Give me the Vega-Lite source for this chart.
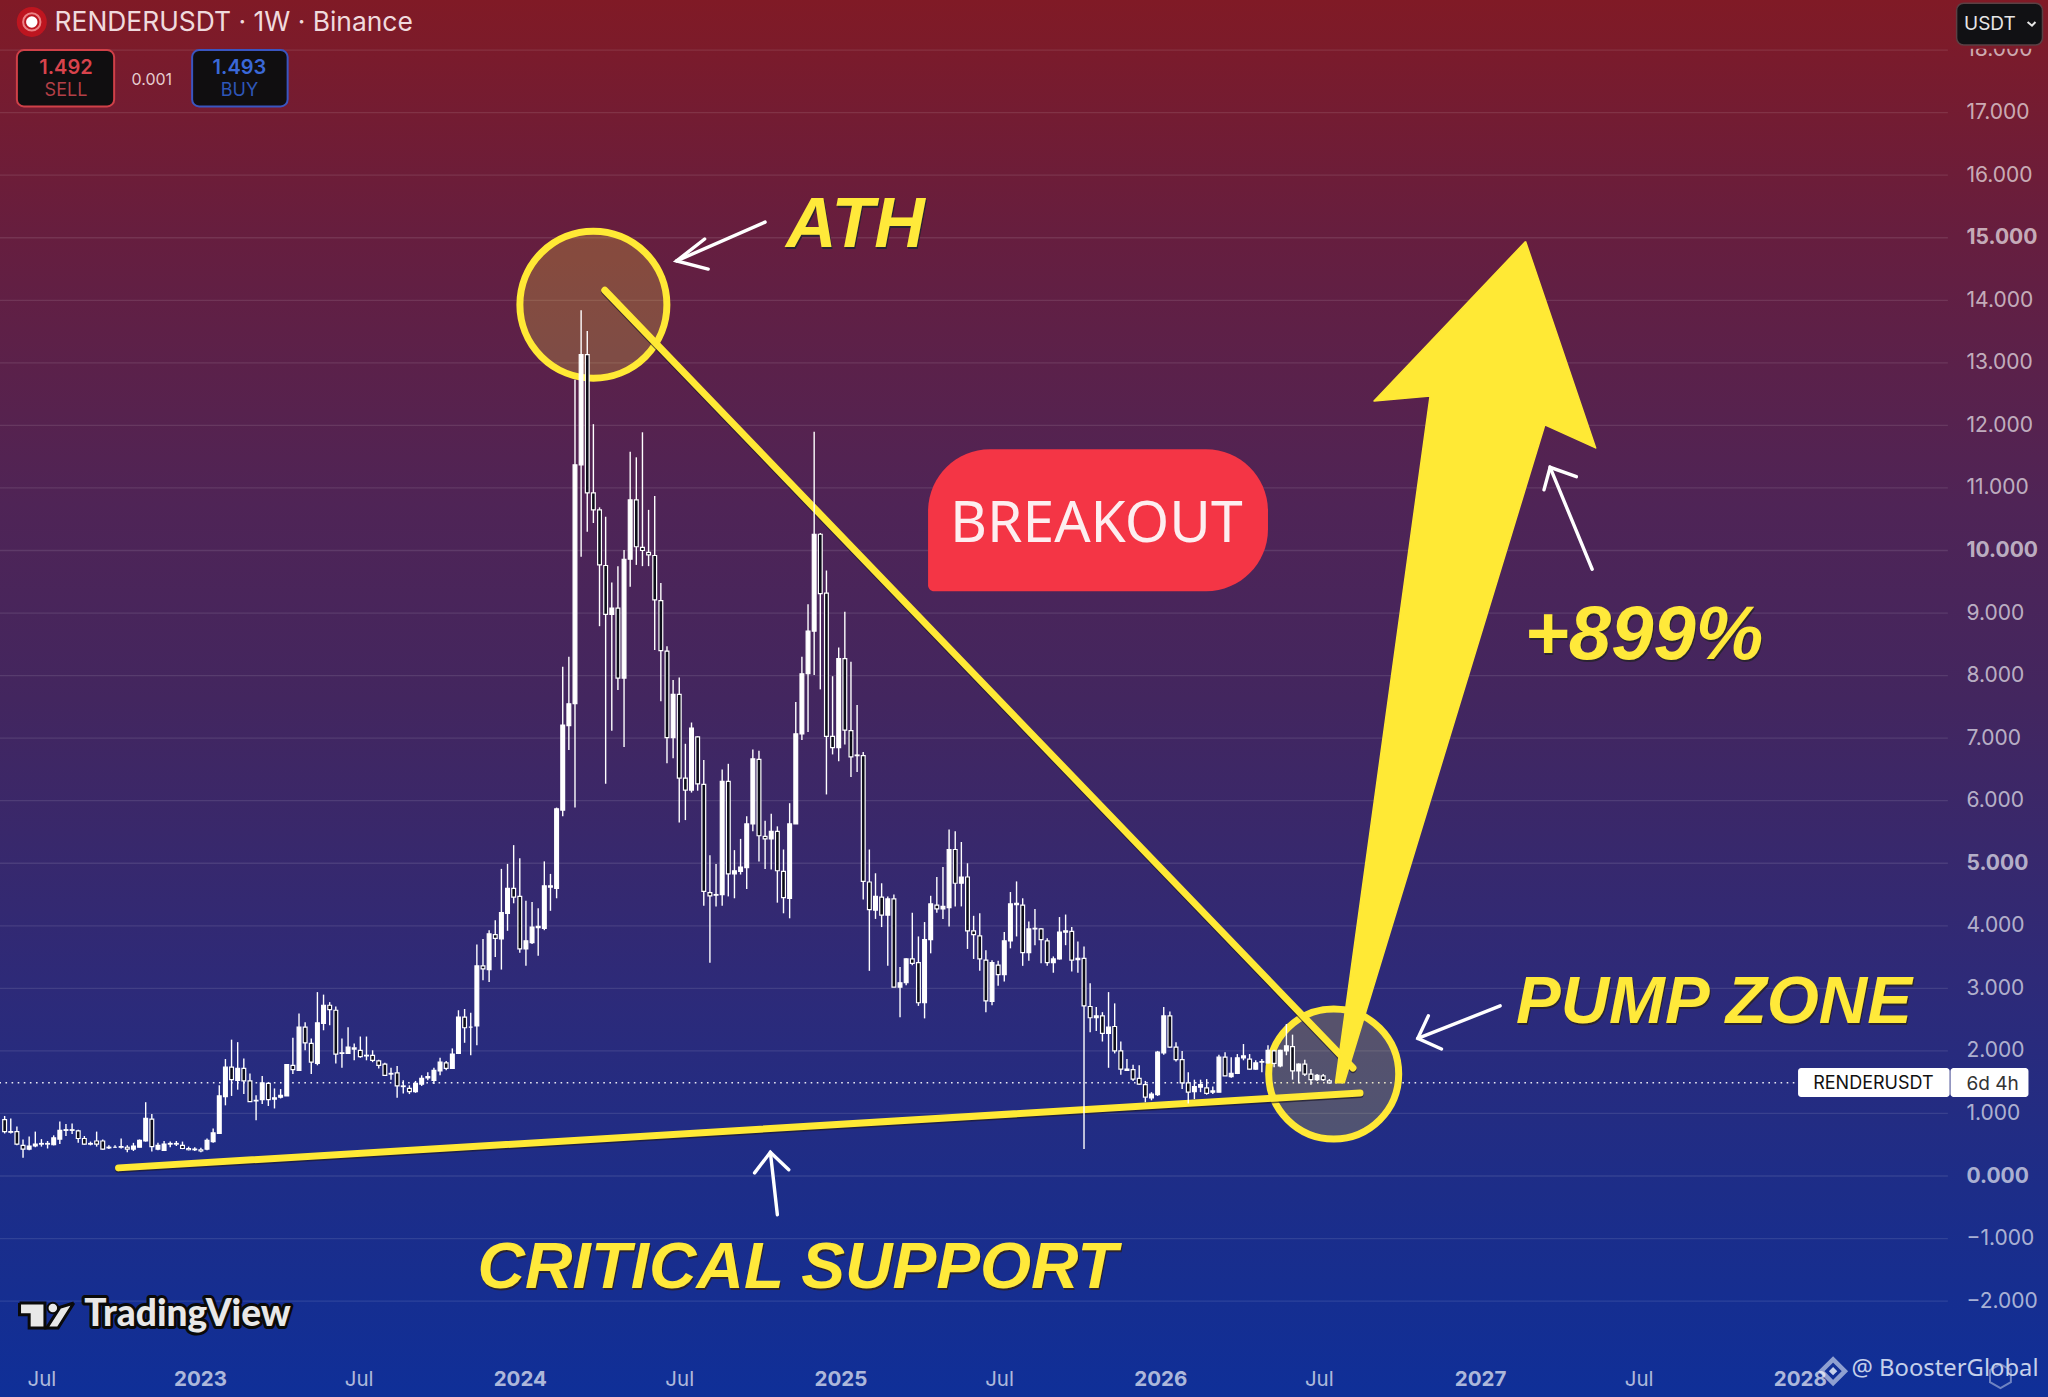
{"$schema":"https://vega.github.io/schema/vega-lite/v6.json","width":2048,"height":1397,"padding":0,"autosize":{"type":"none"},"background":"#0f2f98","config":{"view":{"stroke":null},"font":"Inter"},
"datasets":{"candles":[
{"d":"2022-05-23","o":0.9,"h":0.96,"l":0.68,"c":0.71},{"d":"2022-05-30","o":0.71,"h":0.92,"l":0.68,"c":0.7},{"d":"2022-06-06","o":0.71,"h":0.79,"l":0.49,"c":0.51},{"d":"2022-06-13","o":0.49,"h":0.585,"l":0.29,"c":0.43},{"d":"2022-06-20","o":0.43,"h":0.63,"l":0.41,"c":0.48},{"d":"2022-06-27","o":0.48,"h":0.71,"l":0.46,"c":0.51},{"d":"2022-07-04","o":0.51,"h":0.59,"l":0.47,"c":0.52},{"d":"2022-07-11","o":0.52,"h":0.56,"l":0.44,"c":0.51},{"d":"2022-07-18","o":0.5,"h":0.65,"l":0.49,"c":0.61},{"d":"2022-07-25","o":0.59,"h":0.87,"l":0.51,"c":0.73},{"d":"2022-08-01","o":0.73,"h":0.83,"l":0.64,"c":0.74},{"d":"2022-08-08","o":0.74,"h":0.84,"l":0.67,"c":0.73},{"d":"2022-08-15","o":0.72,"h":0.74,"l":0.53,"c":0.6},{"d":"2022-08-22","o":0.6,"h":0.64,"l":0.5,"c":0.51},{"d":"2022-08-29","o":0.51,"h":0.55,"l":0.49,"c":0.52},{"d":"2022-09-05","o":0.56,"h":0.71,"l":0.47,"c":0.51},{"d":"2022-09-12","o":0.56,"h":0.585,"l":0.42,"c":0.43},{"d":"2022-09-19","o":0.46,"h":0.49,"l":0.43,"c":0.45},{"d":"2022-09-26","o":0.46,"h":0.49,"l":0.45,"c":0.46},{"d":"2022-10-03","o":0.47,"h":0.6,"l":0.44,"c":0.46},{"d":"2022-10-10","o":0.46,"h":0.49,"l":0.38,"c":0.43},{"d":"2022-10-17","o":0.43,"h":0.53,"l":0.4,"c":0.48},{"d":"2022-10-24","o":0.46,"h":0.585,"l":0.46,"c":0.57},{"d":"2022-10-31","o":0.56,"h":1.18,"l":0.55,"c":0.92},{"d":"2022-11-07","o":0.91,"h":0.99,"l":0.39,"c":0.47},{"d":"2022-11-14","o":0.43,"h":0.53,"l":0.41,"c":0.49},{"d":"2022-11-21","o":0.41,"h":0.56,"l":0.4,"c":0.51},{"d":"2022-11-28","o":0.51,"h":0.55,"l":0.46,"c":0.52},{"d":"2022-12-05","o":0.52,"h":0.56,"l":0.48,"c":0.51},{"d":"2022-12-12","o":0.49,"h":0.55,"l":0.43,"c":0.44},{"d":"2022-12-19","o":0.44,"h":0.47,"l":0.41,"c":0.42},{"d":"2022-12-26","o":0.43,"h":0.46,"l":0.4,"c":0.42},
{"d":"2023-01-02","o":0.42,"h":0.45,"l":0.38,"c":0.4},{"d":"2023-01-09","o":0.43,"h":0.6,"l":0.41,"c":0.57},{"d":"2023-01-16","o":0.55,"h":0.76,"l":0.53,"c":0.69},{"d":"2023-01-23","o":0.68,"h":1.45,"l":0.68,"c":1.28},{"d":"2023-01-30","o":1.27,"h":1.87,"l":1.13,"c":1.74},{"d":"2023-02-06","o":1.74,"h":2.18,"l":1.28,"c":1.54},{"d":"2023-02-13","o":1.53,"h":2.14,"l":1.38,"c":1.72},{"d":"2023-02-20","o":1.72,"h":1.88,"l":1.31,"c":1.52},{"d":"2023-02-27","o":1.52,"h":1.64,"l":1.19,"c":1.19},{"d":"2023-03-06","o":1.2,"h":1.29,"l":0.89,"c":1.21},{"d":"2023-03-13","o":1.22,"h":1.6,"l":1.15,"c":1.49},{"d":"2023-03-20","o":1.48,"h":1.5,"l":1.12,"c":1.22},{"d":"2023-03-27","o":1.23,"h":1.4,"l":1.08,"c":1.25},{"d":"2023-04-03","o":1.26,"h":1.39,"l":1.24,"c":1.29},{"d":"2023-04-10","o":1.28,"h":1.79,"l":1.28,"c":1.78},{"d":"2023-04-17","o":1.77,"h":2.21,"l":1.63,"c":1.7},{"d":"2023-04-24","o":1.69,"h":2.6,"l":1.69,"c":2.38},{"d":"2023-05-01","o":2.38,"h":2.46,"l":2.01,"c":2.13},{"d":"2023-05-08","o":2.12,"h":2.2,"l":1.63,"c":1.82},{"d":"2023-05-15","o":1.8,"h":2.94,"l":1.77,"c":2.45},{"d":"2023-05-22","o":2.44,"h":2.9,"l":2.33,"c":2.73},{"d":"2023-05-29","o":2.73,"h":2.78,"l":2.41,"c":2.66},{"d":"2023-06-05","o":2.65,"h":2.71,"l":1.8,"c":1.95},{"d":"2023-06-12","o":1.97,"h":2.2,"l":1.73,"c":1.96},{"d":"2023-06-19","o":1.96,"h":2.38,"l":1.95,"c":2.06},{"d":"2023-06-26","o":2.05,"h":2.12,"l":1.85,"c":2.03},{"d":"2023-07-03","o":2.01,"h":2.23,"l":1.89,"c":1.91},{"d":"2023-07-10","o":1.93,"h":2.23,"l":1.85,"c":1.92},{"d":"2023-07-17","o":1.93,"h":2.01,"l":1.82,"c":1.85},{"d":"2023-07-24","o":1.84,"h":1.86,"l":1.72,"c":1.77},{"d":"2023-07-31","o":1.79,"h":1.81,"l":1.6,"c":1.61},{"d":"2023-08-07","o":1.63,"h":1.73,"l":1.54,"c":1.64},{"d":"2023-08-14","o":1.65,"h":1.76,"l":1.25,"c":1.44},{"d":"2023-08-21","o":1.44,"h":1.53,"l":1.32,"c":1.43},{"d":"2023-08-28","o":1.4,"h":1.45,"l":1.31,"c":1.35},{"d":"2023-09-04","o":1.35,"h":1.52,"l":1.33,"c":1.48},{"d":"2023-09-11","o":1.47,"h":1.61,"l":1.44,"c":1.56},{"d":"2023-09-18","o":1.57,"h":1.66,"l":1.53,"c":1.59},{"d":"2023-09-25","o":1.53,"h":1.73,"l":1.47,"c":1.69},{"d":"2023-10-02","o":1.68,"h":1.89,"l":1.61,"c":1.82},{"d":"2023-10-09","o":1.81,"h":1.84,"l":1.69,"c":1.72},{"d":"2023-10-16","o":1.72,"h":2.04,"l":1.72,"c":1.95},{"d":"2023-10-23","o":1.96,"h":2.65,"l":1.95,"c":2.54},{"d":"2023-10-30","o":2.54,"h":2.67,"l":2.13,"c":2.37},{"d":"2023-11-06","o":2.38,"h":2.61,"l":1.93,"c":2.38},{"d":"2023-11-13","o":2.4,"h":3.7,"l":2.09,"c":3.36},{"d":"2023-11-20","o":3.36,"h":3.79,"l":3.13,"c":3.31},{"d":"2023-11-27","o":3.3,"h":3.93,"l":3.1,"c":3.87},{"d":"2023-12-04","o":3.86,"h":4.09,"l":3.5,"c":3.8},{"d":"2023-12-11","o":3.79,"h":4.91,"l":3.3,"c":4.21},{"d":"2023-12-18","o":4.2,"h":4.99,"l":3.92,"c":4.6},{"d":"2023-12-25","o":4.6,"h":5.29,"l":4.36,"c":4.46},
{"d":"2024-01-01","o":4.47,"h":5.08,"l":3.57,"c":3.63},{"d":"2024-01-08","o":3.63,"h":4.4,"l":3.36,"c":3.76},{"d":"2024-01-15","o":3.73,"h":4.38,"l":3.71,"c":3.98},{"d":"2024-01-22","o":3.97,"h":4.28,"l":3.52,"c":3.99},{"d":"2024-01-29","o":3.96,"h":5.03,"l":3.93,"c":4.64},{"d":"2024-02-05","o":4.62,"h":4.83,"l":4.24,"c":4.64},{"d":"2024-02-12","o":4.6,"h":5.89,"l":4.44,"c":5.87},{"d":"2024-02-19","o":5.85,"h":8.14,"l":5.75,"c":7.21},{"d":"2024-02-26","o":7.2,"h":8.3,"l":6.81,"c":7.55},{"d":"2024-03-04","o":7.55,"h":12.73,"l":5.89,"c":11.37},{"d":"2024-03-11","o":11.37,"h":13.84,"l":9.9,"c":13.13},{"d":"2024-03-18","o":13.13,"h":13.51,"l":10.3,"c":10.92},{"d":"2024-03-25","o":10.92,"h":12.02,"l":10.44,"c":10.65},{"d":"2024-04-01","o":10.65,"h":10.69,"l":8.79,"c":9.77},{"d":"2024-04-08","o":9.76,"h":10.54,"l":6.27,"c":8.98},{"d":"2024-04-15","o":8.98,"h":9.49,"l":7.12,"c":9.08},{"d":"2024-04-22","o":9.08,"h":9.75,"l":7.77,"c":7.96},{"d":"2024-04-29","o":7.96,"h":10.01,"l":6.86,"c":9.86},{"d":"2024-05-06","o":9.86,"h":11.58,"l":9.42,"c":10.81},{"d":"2024-05-13","o":10.81,"h":11.49,"l":9.77,"c":10.06},{"d":"2024-05-20","o":10.05,"h":11.89,"l":9.75,"c":10.0},{"d":"2024-05-27","o":9.97,"h":10.65,"l":9.75,"c":9.93},{"d":"2024-06-03","o":9.92,"h":10.87,"l":8.41,"c":9.21},{"d":"2024-06-10","o":9.2,"h":9.48,"l":7.59,"c":8.4},{"d":"2024-06-17","o":8.39,"h":8.47,"l":6.6,"c":7.01},{"d":"2024-06-24","o":7.01,"h":7.93,"l":6.68,"c":7.7},{"d":"2024-07-01","o":7.7,"h":7.97,"l":5.65,"c":6.36},{"d":"2024-07-08","o":6.36,"h":6.91,"l":5.69,"c":6.17},{"d":"2024-07-15","o":6.17,"h":7.25,"l":6.13,"c":7.16},{"d":"2024-07-22","o":7.02,"h":7.03,"l":6.16,"c":6.27},{"d":"2024-07-29","o":6.26,"h":6.65,"l":4.32,"c":4.55},{"d":"2024-08-05","o":4.53,"h":5.13,"l":3.41,"c":4.48},{"d":"2024-08-12","o":4.49,"h":4.99,"l":4.31,"c":4.5},{"d":"2024-08-19","o":4.5,"h":6.5,"l":4.32,"c":6.31},{"d":"2024-08-26","o":6.31,"h":6.59,"l":4.47,"c":4.83},{"d":"2024-09-02","o":4.83,"h":5.21,"l":4.44,"c":4.88},{"d":"2024-09-09","o":4.87,"h":5.39,"l":4.82,"c":4.94},{"d":"2024-09-16","o":4.93,"h":5.75,"l":4.59,"c":5.63},{"d":"2024-09-23","o":5.63,"h":6.82,"l":5.51,"c":6.67},{"d":"2024-09-30","o":6.66,"h":6.8,"l":5.03,"c":5.44},{"d":"2024-10-07","o":5.43,"h":5.68,"l":4.91,"c":5.39},{"d":"2024-10-14","o":5.39,"h":5.79,"l":4.9,"c":5.51},{"d":"2024-10-21","o":5.51,"h":5.59,"l":4.37,"c":4.88},{"d":"2024-10-28","o":4.87,"h":5.22,"l":4.2,"c":4.45},{"d":"2024-11-04","o":4.44,"h":5.96,"l":4.12,"c":5.63},{"d":"2024-11-11","o":5.63,"h":7.58,"l":5.63,"c":7.07},{"d":"2024-11-18","o":7.07,"h":8.3,"l":6.97,"c":8.03},{"d":"2024-11-25","o":8.03,"h":9.14,"l":7.1,"c":8.71},{"d":"2024-12-02","o":8.71,"h":11.9,"l":8.01,"c":10.26},{"d":"2024-12-09","o":10.26,"h":10.28,"l":7.78,"c":9.31},{"d":"2024-12-16","o":9.32,"h":9.68,"l":6.1,"c":7.03},{"d":"2024-12-23","o":7.03,"h":7.99,"l":6.74,"c":6.85},{"d":"2024-12-30","o":6.85,"h":8.45,"l":6.63,"c":8.27},
{"d":"2025-01-06","o":8.27,"h":9.02,"l":6.9,"c":7.13},{"d":"2025-01-13","o":7.12,"h":8.22,"l":6.38,"c":6.7},{"d":"2025-01-20","o":6.72,"h":7.53,"l":6.46,"c":6.73},{"d":"2025-01-27","o":6.72,"h":6.78,"l":4.42,"c":4.71},{"d":"2025-02-03","o":4.7,"h":5.22,"l":3.28,"c":4.26},{"d":"2025-02-10","o":4.25,"h":4.84,"l":4.11,"c":4.47},{"d":"2025-02-17","o":4.46,"h":4.68,"l":3.98,"c":4.17},{"d":"2025-02-24","o":4.17,"h":4.47,"l":3.36,"c":4.43},{"d":"2025-03-03","o":4.43,"h":4.5,"l":3.02,"c":3.02},{"d":"2025-03-10","o":3.02,"h":3.34,"l":2.54,"c":3.09},{"d":"2025-03-17","o":3.09,"h":3.48,"l":3.05,"c":3.47},{"d":"2025-03-24","o":3.47,"h":4.21,"l":3.37,"c":3.4},{"d":"2025-03-31","o":3.41,"h":3.83,"l":2.72,"c":2.77},{"d":"2025-04-07","o":2.77,"h":4.06,"l":2.52,"c":3.78},{"d":"2025-04-14","o":3.78,"h":4.48,"l":3.56,"c":4.35},{"d":"2025-04-21","o":4.33,"h":4.78,"l":4.21,"c":4.27},{"d":"2025-04-28","o":4.27,"h":4.94,"l":4.11,"c":4.31},{"d":"2025-05-05","o":4.29,"h":5.54,"l":3.99,"c":5.22},{"d":"2025-05-12","o":5.22,"h":5.51,"l":4.31,"c":4.68},{"d":"2025-05-19","o":4.68,"h":5.34,"l":4.31,"c":4.78},{"d":"2025-05-26","o":4.78,"h":5.0,"l":3.63,"c":3.92},{"d":"2025-06-02","o":3.92,"h":4.16,"l":3.47,"c":3.86},{"d":"2025-06-09","o":3.84,"h":4.2,"l":3.28,"c":3.47},{"d":"2025-06-16","o":3.45,"h":3.61,"l":2.62,"c":2.8},{"d":"2025-06-23","o":2.79,"h":3.45,"l":2.73,"c":3.41},{"d":"2025-06-30","o":3.37,"h":3.44,"l":3.04,"c":3.22},{"d":"2025-07-07","o":3.22,"h":3.9,"l":3.11,"c":3.76},{"d":"2025-07-14","o":3.76,"h":4.54,"l":3.64,"c":4.35},{"d":"2025-07-21","o":4.34,"h":4.71,"l":3.83,"c":4.36},{"d":"2025-07-28","o":4.33,"h":4.44,"l":3.36,"c":3.57},{"d":"2025-08-04","o":3.57,"h":4.07,"l":3.44,"c":3.95},{"d":"2025-08-11","o":3.95,"h":4.27,"l":3.69,"c":3.96},{"d":"2025-08-18","o":3.95,"h":3.96,"l":3.4,"c":3.78},{"d":"2025-08-25","o":3.76,"h":3.8,"l":3.36,"c":3.41},{"d":"2025-09-01","o":3.41,"h":3.51,"l":3.25,"c":3.47},{"d":"2025-09-08","o":3.47,"h":4.14,"l":3.46,"c":3.9},{"d":"2025-09-15","o":3.9,"h":4.18,"l":3.69,"c":3.92},{"d":"2025-09-22","o":3.91,"h":3.98,"l":3.27,"c":3.45},{"d":"2025-09-29","o":3.46,"h":3.75,"l":3.25,"c":3.48},{"d":"2025-10-06","o":3.48,"h":3.67,"l":0.43,"c":2.72},{"d":"2025-10-13","o":2.71,"h":3.08,"l":2.3,"c":2.53},{"d":"2025-10-20","o":2.53,"h":2.7,"l":2.32,"c":2.56},{"d":"2025-10-27","o":2.56,"h":2.62,"l":2.15,"c":2.28},{"d":"2025-11-03","o":2.28,"h":2.94,"l":1.73,"c":2.38},{"d":"2025-11-10","o":2.39,"h":2.76,"l":1.96,"c":2.0},{"d":"2025-11-17","o":2.0,"h":2.15,"l":1.62,"c":1.71},{"d":"2025-11-24","o":1.71,"h":1.87,"l":1.68,"c":1.69},{"d":"2025-12-01","o":1.7,"h":1.78,"l":1.52,"c":1.55},{"d":"2025-12-08","o":1.56,"h":1.77,"l":1.46,"c":1.47},{"d":"2025-12-15","o":1.46,"h":1.52,"l":1.18,"c":1.26},{"d":"2025-12-22","o":1.25,"h":1.34,"l":1.21,"c":1.31},{"d":"2025-12-29","o":1.3,"h":2.0,"l":1.28,"c":1.98},
{"d":"2026-01-05","o":1.97,"h":2.7,"l":1.94,"c":2.56},{"d":"2026-01-12","o":2.56,"h":2.63,"l":2.05,"c":2.06},{"d":"2026-01-19","o":2.06,"h":2.14,"l":1.83,"c":1.86},{"d":"2026-01-26","o":1.86,"h":2.0,"l":1.39,"c":1.49},{"d":"2026-02-02","o":1.49,"h":1.66,"l":1.16,"c":1.34},{"d":"2026-02-09","o":1.35,"h":1.54,"l":1.23,"c":1.43},{"d":"2026-02-16","o":1.42,"h":1.54,"l":1.34,"c":1.46},{"d":"2026-02-23","o":1.41,"h":1.55,"l":1.3,"c":1.32},{"d":"2026-03-02","o":1.34,"h":1.43,"l":1.31,"c":1.36},{"d":"2026-03-09","o":1.34,"h":1.94,"l":1.34,"c":1.9},{"d":"2026-03-16","o":1.9,"h":1.98,"l":1.6,"c":1.6},{"d":"2026-03-23","o":1.59,"h":1.9,"l":1.57,"c":1.64},{"d":"2026-03-30","o":1.64,"h":1.95,"l":1.63,"c":1.89},{"d":"2026-04-06","o":1.89,"h":2.11,"l":1.85,"c":1.92},{"d":"2026-04-13","o":1.87,"h":1.95,"l":1.7,"c":1.71},{"d":"2026-04-20","o":1.71,"h":1.85,"l":1.7,"c":1.81},{"d":"2026-04-27","o":1.83,"h":1.87,"l":1.66,"c":1.82},{"d":"2026-05-04","o":1.81,"h":2.09,"l":1.8,"c":2.01},{"d":"2026-05-11","o":2.0,"h":2.02,"l":1.74,"c":1.8},{"d":"2026-05-18","o":1.76,"h":2.02,"l":1.74,"c":2.01},{"d":"2026-05-25","o":2.0,"h":2.43,"l":1.93,"c":2.08},{"d":"2026-06-01","o":2.07,"h":2.26,"l":1.54,"c":1.68},{"d":"2026-06-08","o":1.68,"h":1.8,"l":1.48,"c":1.79},{"d":"2026-06-15","o":1.79,"h":1.86,"l":1.6,"c":1.63},{"d":"2026-06-22","o":1.63,"h":1.71,"l":1.46,"c":1.54},{"d":"2026-06-29","o":1.54,"h":1.63,"l":1.52,"c":1.61},{"d":"2026-07-06","o":1.6,"h":1.63,"l":1.52,"c":1.54},{"d":"2026-07-13","o":1.52,"h":1.55,"l":1.48,"c":1.49}
],
"ylines":[{"a":"support","i":0,"d":"2022-09-30","v":0.13},{"a":"support","i":1,"d":"2026-08-17","v":1.327},{"a":"diagonal","i":0,"d":"2024-04-07","v":14.16},{"a":"diagonal","i":1,"d":"2026-08-09","v":1.727}],
"tvpoly":[{"a":"T","i":0,"d":"2022-06-09","v":-2.03},{"a":"T","i":1,"d":"2022-07-08","v":-2.03},{"a":"T","i":2,"d":"2022-07-08","v":-2.43},{"a":"T","i":3,"d":"2022-06-20","v":-2.43},{"a":"T","i":4,"d":"2022-06-20","v":-2.22},{"a":"T","i":5,"d":"2022-06-09","v":-2.22},{"a":"T","i":6,"d":"2022-06-09","v":-2.03},{"a":"S","i":0,"d":"2022-08-10","v":-2.03},{"a":"S","i":1,"d":"2022-07-23","v":-2.43},{"a":"S","i":2,"d":"2022-07-10","v":-2.43},{"a":"S","i":3,"d":"2022-07-25","v":-2.1},{"a":"S","i":4,"d":"2022-08-10","v":-2.03}]
},
"encoding":{
"x":{"field":"d","type":"temporal","title":null,"scale":{"type":"utc","padding":0,"domain":[{"year":2022,"month":5,"date":17,"hours":17,"utc":true},{"year":2028,"month":10,"date":10,"hours":7,"utc":true}],"nice":false},
"axis":{"orient":"bottom","offset":-28,"zindex":1,"grid":false,"domain":false,"ticks":false,"labelPadding":0,"labelFont":"Inter","labelFontSize":20.5,"labelColor":"#ffffff","labelOpacity":0.68,"labelBound":false,"labelFlush":false,"labelOverlap":false,
"values":[{"year":2022,"month":7,"date":4,"utc":true},{"year":2023,"month":1,"date":1,"utc":true},{"year":2023,"month":7,"date":1,"utc":true},{"year":2024,"month":1,"date":1,"utc":true},{"year":2024,"month":7,"date":1,"utc":true},{"year":2025,"month":1,"date":1,"utc":true},{"year":2025,"month":7,"date":1,"utc":true},{"year":2026,"month":1,"date":1,"utc":true},{"year":2026,"month":7,"date":1,"utc":true},{"year":2027,"month":1,"date":1,"utc":true},{"year":2027,"month":7,"date":1,"utc":true},{"year":2028,"month":1,"date":1,"utc":true}],
"labelExpr":"utcmonth(datum.value)==0 ? utcyear(datum.value) : 'Jul'",
"labelFontWeight":{"condition":{"test":"utcmonth(datum.value)==0","value":"bold"},"value":"normal"}}},
"y":{"field":"v","type":"quantitative","title":null,"scale":{"domain":[-3.533,18.801],"nice":false,"zero":false},
"axis":{"orient":"right","offset":-82,"zindex":1,"grid":false,"domain":false,"ticks":false,"labelPadding":0,"labelFont":"Inter","labelFontSize":21,"labelColor":"#ffffff","labelOpacity":0.65,"labelOverlap":false,"labelBound":false,"labelFlush":false,"format":".3f",
"values":[-2,-1,0,1,2,3,4,5,6,7,8,9,10,11,12,13,14,15,16,17],
"labelFontWeight":{"condition":{"test":"datum.value%5==0","value":"bold"},"value":"normal"}}}
},
"layer":[
{"data":{"values":[{"d":"2022-05-17T17:00:00Z","d2":"2028-10-10T07:00:00Z","v":-3.533,"v2":18.801}]},
"mark":{"type":"rect","fill":{"gradient":"linear","x1":0,"y1":0,"x2":0,"y2":1,"stops":[{"offset":0,"color":"#801a26"},{"offset":0.17,"color":"#661e3f"},{"offset":0.36,"color":"#4f2456"},{"offset":0.5,"color":"#43265f"},{"offset":0.7,"color":"#2e2a78"},{"offset":0.85,"color":"#1d2d88"},{"offset":1,"color":"#0f2f98"}]}},
"encoding":{"x2":{"field":"d2"},"y2":{"field":"v2"}}},
{"data":{"values":[{"d":"2022-05-17","d2":"2028-06-18","v":-2},{"d":"2022-05-17","d2":"2028-06-18","v":-1},{"d":"2022-05-17","d2":"2028-06-18","v":0},{"d":"2022-05-17","d2":"2028-06-18","v":1},{"d":"2022-05-17","d2":"2028-06-18","v":2},{"d":"2022-05-17","d2":"2028-06-18","v":3},{"d":"2022-05-17","d2":"2028-06-18","v":4},{"d":"2022-05-17","d2":"2028-06-18","v":5},{"d":"2022-05-17","d2":"2028-06-18","v":6},{"d":"2022-05-17","d2":"2028-06-18","v":7},{"d":"2022-05-17","d2":"2028-06-18","v":8},{"d":"2022-05-17","d2":"2028-06-18","v":9},{"d":"2022-05-17","d2":"2028-06-18","v":10},{"d":"2022-05-17","d2":"2028-06-18","v":11},{"d":"2022-05-17","d2":"2028-06-18","v":12},{"d":"2022-05-17","d2":"2028-06-18","v":13},{"d":"2022-05-17","d2":"2028-06-18","v":14},{"d":"2022-05-17","d2":"2028-06-18","v":15},{"d":"2022-05-17","d2":"2028-06-18","v":16},{"d":"2022-05-17","d2":"2028-06-18","v":17},{"d":"2022-05-17","d2":"2028-06-18","v":18}]},
"mark":{"type":"rule","stroke":"#ffffff","strokeOpacity":0.1,"strokeWidth":1.3},"encoding":{"x2":{"field":"d2"}}},
{"data":{"values":[{"d":"2022-05-17","d2":"2027-12-30","v":1.49}]},"mark":{"type":"rule","stroke":"#ffffff","strokeOpacity":0.9,"strokeWidth":1.6,"strokeDash":[1.6,4.5]},"encoding":{"x2":{"field":"d2"}}},
{"data":{"values":[{"d":"2028-07-09","v":18,"t":"18.000"}]},"mark":{"type":"text","align":"left","baseline":"middle","font":"Inter","fontSize":21,"fill":"#ffffff","fillOpacity":0.65},"encoding":{"text":{"field":"t"}}},
{"data":{"values":[{"d":"2022-05-17T17:00:00Z","d2":"2028-10-10T07:00:00Z","v":18.02,"v2":18.801}]},"mark":{"type":"rect","fill":{"gradient":"linear","x1":0,"y1":0,"x2":0,"y2":1,"stops":[{"offset":0,"color":"#801a26"},{"offset":1,"color":"#7c1b2a"}]}},"encoding":{"x2":{"field":"d2"},"y2":{"field":"v2"}}},
{"data":{"values":[{"d":"2024-03-25","v":13.93}]},"mark":{"type":"point","shape":"circle","filled":true,"size":21609,"fill":"#ffe935","fillOpacity":0.22,"stroke":"#ffe935","strokeOpacity":1,"strokeWidth":7}},
{"data":{"values":[{"d":"2026-07-18","v":1.63}]},"mark":{"type":"point","shape":"circle","filled":true,"size":16900,"fill":"#ffe935","fillOpacity":0.21,"stroke":"#ffe935","strokeOpacity":1,"strokeWidth":7}},
{"data":{"name":"ylines"},"mark":{"type":"line","stroke":"#1f1b2a","strokeOpacity":0.7,"strokeWidth":7,"strokeCap":"round","yOffset":1.5},"encoding":{"detail":{"field":"a"},"order":{"field":"i"}}},
{"data":{"name":"ylines"},"mark":{"type":"line","stroke":"#ffe935","strokeWidth":7,"strokeCap":"round"},"encoding":{"detail":{"field":"a"},"order":{"field":"i"}}},
{"data":{"name":"candles"},"mark":{"type":"rule","stroke":"#ffffff","strokeWidth":1.4},"encoding":{"y":{"field":"l","type":"quantitative","title":null,"axis":{"orient":"right","offset":-82,"zindex":1,"grid":false,"domain":false,"ticks":false,"labelPadding":0,"labelFont":"Inter","labelFontSize":21,"labelColor":"#ffffff","labelOpacity":0.65,"labelOverlap":false,"labelBound":false,"labelFlush":false,"format":".3f","values":[-2,-1,0,1,2,3,4,5,6,7,8,9,10,11,12,13,14,15,16,17],"labelFontWeight":{"condition":{"test":"datum.value%5==0","value":"bold"},"value":"normal"}}},"y2":{"field":"h"}}},
{"data":{"name":"candles"},"mark":{"type":"bar","width":3.8,"stroke":"#ffffff","strokeWidth":1.2},"encoding":{"y":{"field":"o","type":"quantitative","title":null,"axis":{"orient":"right","offset":-82,"zindex":1,"grid":false,"domain":false,"ticks":false,"labelPadding":0,"labelFont":"Inter","labelFontSize":21,"labelColor":"#ffffff","labelOpacity":0.65,"labelOverlap":false,"labelBound":false,"labelFlush":false,"format":".3f","values":[-2,-1,0,1,2,3,4,5,6,7,8,9,10,11,12,13,14,15,16,17],"labelFontWeight":{"condition":{"test":"datum.value%5==0","value":"bold"},"value":"normal"}}},"y2":{"field":"c"},"fill":{"condition":{"test":"datum.c<datum.o","value":"#0c0c18"},"value":"#ffffff"}}},
{"data":{"values":[{"i":0,"d":"2027-02-22","v":14.94},{"i":1,"d":"2027-05-13","v":11.64},{"i":2,"d":"2027-03-16","v":12.01},{"i":3,"d":"2026-07-30","v":1.49},{"i":4,"d":"2026-07-20","v":1.49},{"i":5,"d":"2026-11-05","v":12.47},{"i":6,"d":"2026-09-02","v":12.39},{"i":7,"d":"2027-02-22","v":14.94}]},
"mark":{"type":"line","fill":"#ffe935","stroke":"#ffe935","strokeWidth":1.5,"strokeJoin":"round"},"encoding":{"order":{"field":"i"}}},
{"data":{"values":[{"d":"2025-04-11","d2":"2026-05-04","v":11.62,"v2":9.35}]},"mark":{"type":"rect","fill":"#f43545","cornerRadiusTopLeft":62,"cornerRadiusTopRight":62,"cornerRadiusBottomRight":62,"cornerRadiusBottomLeft":6},"encoding":{"x2":{"field":"d2"},"y2":{"field":"v2"}}},
{"data":{"values":[{"d":"2025-10-20","v":10.4,"t":"BREAKOUT"}]},"mark":{"type":"text","font":"Noto Sans","fontSize":57,"fill":"#fdeef0","align":"center","baseline":"middle"},"encoding":{"text":{"field":"t"}}},
{"data":{"values":[{"a":"ath1","i":0,"d":"2024-10-07","v":15.25},{"a":"ath1","i":1,"d":"2024-06-28","v":14.63},{"a":"ath2","i":0,"d":"2024-07-30","v":14.98},{"a":"ath2","i":1,"d":"2024-06-28","v":14.63},{"a":"ath2","i":2,"d":"2024-08-03","v":14.5},{"a":"pump1","i":0,"d":"2027-01-24","v":2.72},{"a":"pump1","i":1,"d":"2026-10-22","v":2.2},{"a":"pump2","i":0,"d":"2026-11-03","v":2.56},{"a":"pump2","i":1,"d":"2026-10-22","v":2.2},{"a":"pump2","i":2,"d":"2026-11-18","v":2.03},{"a":"up1","i":0,"d":"2027-05-09","v":9.7},{"a":"up1","i":1,"d":"2027-03-22","v":11.33},{"a":"up2","i":0,"d":"2027-03-15","v":10.97},{"a":"up2","i":1,"d":"2027-03-22","v":11.33},{"a":"up2","i":2,"d":"2027-04-21","v":11.18},{"a":"sup1","i":0,"d":"2024-10-21","v":-0.62},{"a":"sup1","i":1,"d":"2024-10-13","v":0.38},{"a":"sup2","i":0,"d":"2024-09-25","v":0.05},{"a":"sup2","i":1,"d":"2024-10-13","v":0.38},{"a":"sup2","i":2,"d":"2024-11-03","v":0.1}]},
"mark":{"type":"line","stroke":"#ffffff","strokeWidth":3.4,"strokeCap":"round","strokeJoin":"miter"},"encoding":{"detail":{"field":"a"},"order":{"field":"i"}}},
{"data":{"values":[{"d":"2025-01-18","v":15.19,"t":"ATH"}]},"mark":{"type":"text","font":"Liberation Sans","fontStyle":"italic","fontWeight":"bold","fontSize":70,"fill":"#2a2333","align":"center","baseline":"middle","dx":1,"dy":2},"encoding":{"text":{"field":"t"}}},
{"data":{"values":[{"d":"2025-01-18","v":15.19,"t":"ATH"}]},"mark":{"type":"text","font":"Liberation Sans","fontStyle":"italic","fontWeight":"bold","fontSize":70,"fill":"#ffe93a","align":"center","baseline":"middle"},"encoding":{"text":{"field":"t"}}},
{"data":{"values":[{"d":"2027-07-07","v":8.64,"t":"+899%"}]},"mark":{"type":"text","font":"Liberation Sans","fontStyle":"italic","fontWeight":"bold","fontSize":76,"fill":"#2a2333","align":"center","baseline":"middle","dx":1,"dy":2},"encoding":{"text":{"field":"t"}}},
{"data":{"values":[{"d":"2027-07-07","v":8.64,"t":"+899%"}]},"mark":{"type":"text","font":"Liberation Sans","fontStyle":"italic","fontWeight":"bold","fontSize":76,"fill":"#ffe93a","align":"center","baseline":"middle"},"encoding":{"text":{"field":"t"}}},
{"data":{"values":[{"d":"2027-09-25","v":2.77,"t":"PUMP ZONE"}]},"mark":{"type":"text","font":"Liberation Sans","fontStyle":"italic","fontWeight":"bold","fontSize":67,"fill":"#2a2333","align":"center","baseline":"middle","dx":1,"dy":2},"encoding":{"text":{"field":"t"}}},
{"data":{"values":[{"d":"2027-09-25","v":2.77,"t":"PUMP ZONE"}]},"mark":{"type":"text","font":"Liberation Sans","fontStyle":"italic","fontWeight":"bold","fontSize":67,"fill":"#ffe93a","align":"center","baseline":"middle"},"encoding":{"text":{"field":"t"}}},
{"data":{"values":[{"d":"2024-11-13","v":-1.47,"t":"CRITICAL SUPPORT"}]},"mark":{"type":"text","font":"Liberation Sans","fontStyle":"italic","fontWeight":"bold","fontSize":65.7,"fill":"#2a2333","align":"center","baseline":"middle","dx":1,"dy":2},"encoding":{"text":{"field":"t"}}},
{"data":{"values":[{"d":"2024-11-13","v":-1.47,"t":"CRITICAL SUPPORT"}]},"mark":{"type":"text","font":"Liberation Sans","fontStyle":"italic","fontWeight":"bold","fontSize":65.7,"fill":"#ffe93a","align":"center","baseline":"middle"},"encoding":{"text":{"field":"t"}}},
{"data":{"values":[{"d":"2022-06-23","v":18.45}]},"mark":{"type":"point","shape":"circle","filled":true,"size":900,"fill":"#d8141c"}},
{"data":{"values":[{"d":"2022-06-23","v":18.45}]},"mark":{"type":"point","shape":"circle","filled":false,"size":300,"stroke":"#ffb0b0","strokeWidth":2}},
{"data":{"values":[{"d":"2022-06-23","v":18.45}]},"mark":{"type":"point","shape":"circle","filled":true,"size":130,"fill":"#ffffff","fillOpacity":1}},
{"data":{"values":[{"d":"2022-07-19","v":18.43,"t":"RENDERUSDT · 1W · Binance"}]},"mark":{"type":"text","font":"Inter","fontSize":26.4,"fill":"#f0dadd","align":"left","baseline":"middle"},"encoding":{"text":{"field":"t"}}},
{"data":{"values":[{"d":"2022-06-06","d2":"2022-09-25","v":18.0,"v2":17.1}]},"mark":{"type":"rect","fill":"#100e10","stroke":"#d04048","strokeWidth":2,"cornerRadius":7},"encoding":{"x2":{"field":"d2"},"y2":{"field":"v2"}}},
{"data":{"values":[{"d":"2022-12-23","d2":"2023-04-11","v":18.0,"v2":17.1}]},"mark":{"type":"rect","fill":"#100e10","stroke":"#3a55c0","strokeWidth":2,"cornerRadius":7},"encoding":{"x2":{"field":"d2"},"y2":{"field":"v2"}}},
{"data":{"values":[{"d":"2022-08-01","v":17.71,"t":"1.492"}]},"mark":{"type":"text","font":"Inter","fontWeight":600,"fontSize":20,"fill":"#d9434c","align":"center","baseline":"middle"},"encoding":{"text":{"field":"t"}}},
{"data":{"values":[{"d":"2022-08-01","v":17.34,"t":"SELL"}]},"mark":{"type":"text","font":"Inter","fontSize":18,"fill":"#b33f46","align":"center","baseline":"middle"},"encoding":{"text":{"field":"t"}}},
{"data":{"values":[{"d":"2022-11-07","v":17.53,"t":"0.001"}]},"mark":{"type":"text","font":"Inter","fontSize":16,"fill":"#e6ccd0","align":"center","baseline":"middle"},"encoding":{"text":{"field":"t"}}},
{"data":{"values":[{"d":"2023-02-15","v":17.71,"t":"1.493"}]},"mark":{"type":"text","font":"Inter","fontWeight":600,"fontSize":20,"fill":"#3a68d8","align":"center","baseline":"middle"},"encoding":{"text":{"field":"t"}}},
{"data":{"values":[{"d":"2023-02-15","v":17.34,"t":"BUY"}]},"mark":{"type":"text","font":"Inter","fontSize":18,"fill":"#2e56b8","align":"center","baseline":"middle"},"encoding":{"text":{"field":"t"}}},
{"data":{"values":[{"d":"2028-06-28","d2":"2028-10-04","v":18.75,"v2":18.08}]},"mark":{"type":"rect","fill":"#111114","stroke":"#5a4044","strokeWidth":1.5,"cornerRadius":7},"encoding":{"x2":{"field":"d2"},"y2":{"field":"v2"}}},
{"data":{"values":[{"d":"2028-08-05","v":18.42,"t":"USDT"}]},"mark":{"type":"text","font":"Inter","fontSize":19,"fill":"#e6e6e6","align":"center","baseline":"middle"},"encoding":{"text":{"field":"t"}}},
{"data":{"values":[{"i":0,"d":"2028-09-17","v":18.45},{"i":1,"d":"2028-09-22","v":18.39},{"i":2,"d":"2028-09-26","v":18.45}]},"mark":{"type":"line","stroke":"#e6e6e6","strokeWidth":2},"encoding":{"order":{"field":"i"}}},
{"data":{"values":[{"d":"2027-12-30","d2":"2028-06-20","v":1.727,"v2":1.263}]},"mark":{"type":"rect","fill":"#ffffff","cornerRadius":3},"encoding":{"x2":{"field":"d2"},"y2":{"field":"v2"}}},
{"data":{"values":[{"d":"2028-06-21","d2":"2028-09-18","v":1.727,"v2":1.263}]},"mark":{"type":"rect","fill":"#ffffff","cornerRadius":3},"encoding":{"x2":{"field":"d2"},"y2":{"field":"v2"}}},
{"data":{"values":[{"d":"2028-03-25","v":1.47,"t":"RENDERUSDT"}]},"mark":{"type":"text","font":"Inter","fontSize":18,"fill":"#111111","align":"center","baseline":"middle"},"encoding":{"text":{"field":"t"}}},
{"data":{"values":[{"d":"2028-08-08","v":1.47,"t":"6d 4h"}]},"mark":{"type":"text","font":"Inter","fontSize":19,"fill":"#333333","align":"center","baseline":"middle"},"encoding":{"text":{"field":"t"}}},
{"data":{"values":[{"d":"2028-02-08","v":-3.12}]},"mark":{"type":"point","shape":"diamond","filled":false,"size":560,"stroke":"#c5d0ea","strokeWidth":4.5}},
{"data":{"values":[{"d":"2028-02-08","v":-3.12}]},"mark":{"type":"point","shape":"diamond","filled":true,"size":70,"fill":"#c5d0ea","fillOpacity":1}},
{"data":{"values":[{"d":"2028-02-29","v":-3.08,"t":"@ BoosterGlobal"}]},"mark":{"type":"text","font":"Noto Sans","fontSize":23.8,"fill":"#c5d0ea","align":"left","baseline":"middle"},"encoding":{"text":{"field":"t"}}},
{"data":{"values":[{"d":"2028-08-17","v":-3.2}]},"mark":{"type":"point","shape":"M0,-1L0.87,-0.5L0.87,0.5L0,1L-0.87,0.5L-0.87,-0.5Z","filled":false,"size":576,"stroke":"#c5d0ea","strokeOpacity":0.75,"strokeWidth":2}},
{"data":{"name":"tvpoly"},"mark":{"type":"line","fill":"#e8e8e8","stroke":"#0a0a0a","strokeWidth":3},"encoding":{"detail":{"field":"a"},"order":{"field":"i"}}},
{"data":{"values":[{"d":"2022-07-17","v":-2.11}]},"mark":{"type":"point","shape":"circle","filled":true,"size":110,"fill":"#e8e8e8","fillOpacity":1,"stroke":"#0a0a0a","strokeWidth":2}},
{"data":{"values":[{"d":"2022-08-22","v":-2.22,"t":"TradingView"}]},"mark":{"type":"text","font":"Lato","fontWeight":900,"fontSize":37,"fill":"#0a0a0a","stroke":"#0a0a0a","strokeWidth":6,"strokeJoin":"round","align":"left","baseline":"middle"},"encoding":{"text":{"field":"t"}}},
{"data":{"values":[{"d":"2022-08-22","v":-2.22,"t":"TradingView"}]},"mark":{"type":"text","font":"Lato","fontWeight":900,"fontSize":37,"fill":"#e8e8e8","align":"left","baseline":"middle"},"encoding":{"text":{"field":"t"}}}
]}
